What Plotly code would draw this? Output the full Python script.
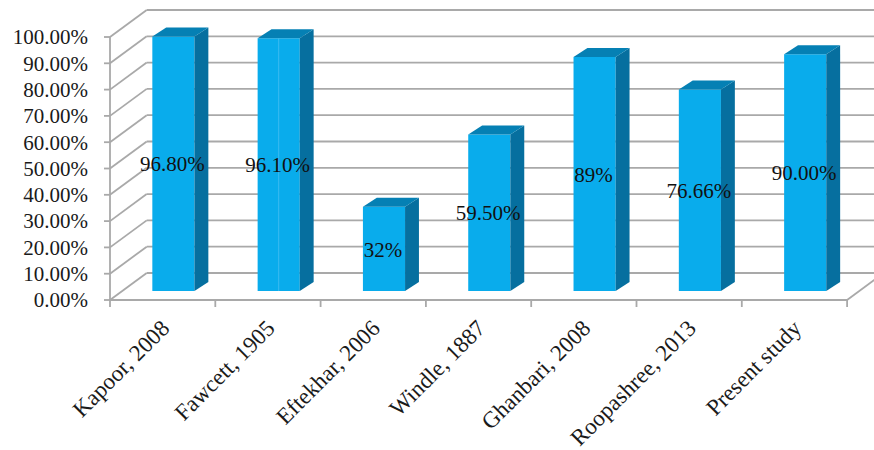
import plotly.graph_objects as go

# Study data
categories = ["Kapoor, 2008", "Fawcett, 1905", "Eftekhar, 2006", "Windle, 1887",
              "Ghanbari, 2008", "Roopashree, 2013", "Present study"]
values = [96.8, 96.1, 32, 59.5, 89, 76.66, 90]
value_labels = ["96.80%", "96.10%", "32%", "59.50%", "89%", "76.66%", "90.00%"]
y_ticks = [0, 10, 20, 30, 40, 50, 60, 70, 80, 90, 100]
y_tick_labels = [f"{v:.2f}%" for v in y_ticks]

# Oblique projection used for the box: depth offsets in axis units
WALL_DX, WALL_DY = 0.3485, 10.27
BAR_LEFT, BAR_W = 0.402, 0.40
FRONT_DY = 3.42
BAR_DX, BAR_DY = 0.132, 3.42

GRID = "#a9a9a9"
FRONT, SIDE, TOP = "#09acec", "#066f9f", "#0580b4"
FONT = "Liberation Serif"
n = len(categories)
PX_X, PX_Y = 105.3, 2.63


def line(x0, y0, x1, y1, color=GRID, width=1.8):
    return dict(type="line", xref="x", yref="y", x0=x0, y0=y0, x1=x1, y1=y1,
                layer="below", line=dict(color=color, width=width))


shapes = []
for v in y_ticks:
    shapes.append(line(0, v, WALL_DX, v + WALL_DY))
    shapes.append(line(WALL_DX, v + WALL_DY, n + 1, v + WALL_DY))
    shapes.append(line(-6 / PX_X, v, 0, v))
shapes.append(line(0, 0, 0, 100))
shapes.append(line(0, 0, n, 0))
shapes.append(line(n, 0, n + WALL_DX, WALL_DY))
for i in range(n + 1):
    shapes.append(line(i, 0, i, -7 / PX_Y))

fig = go.Figure()

# Front faces
lefts = [i + BAR_LEFT for i in range(n)]
fig.add_bar(x=[l + BAR_W / 2 for l in lefts], y=values, base=FRONT_DY, width=BAR_W,
            marker=dict(color=FRONT, line=dict(width=0)), showlegend=False)

# Side and top faces
for l, v in zip(lefts, values):
    r = l + BAR_W
    t = FRONT_DY + v
    fig.add_scatter(x=[r, r + BAR_DX, r + BAR_DX, r, r],
                    y=[FRONT_DY, FRONT_DY + BAR_DY, t + BAR_DY, t, FRONT_DY],
                    mode="lines", fill="toself", fillcolor=SIDE, line=dict(width=0),
                    showlegend=False)
    fig.add_scatter(x=[l, r, r + BAR_DX, l + BAR_DX, l],
                    y=[t, t, t + BAR_DY, t + BAR_DY, t],
                    mode="lines", fill="toself", fillcolor=TOP, line=dict(width=0),
                    showlegend=False)

# Pale seam down the middle of the second column
seam_x = lefts[1] + BAR_W / 2
fig.add_scatter(x=[seam_x, seam_x], y=[FRONT_DY, FRONT_DY + values[1]], mode="lines",
                line=dict(color="#3cbcf0", width=1), showlegend=False)

# Value labels centred on each column's front face
fig.add_scatter(x=[l + BAR_W / 2 - 0.01 for l in lefts],
                y=[FRONT_DY + v / 2 - 0.9 for v in values],
                mode="text", text=value_labels, textposition="middle center",
                textfont=dict(family=FONT, size=21, color="#111111"),
                showlegend=False, cliponaxis=False)

fig.update_layout(
    width=874, height=450, margin=dict(l=104, r=0, t=0, b=141, autoexpand=False),
    paper_bgcolor="white", plot_bgcolor="white", shapes=shapes, showlegend=False,
    xaxis=dict(range=[-6 / PX_X, 764 / PX_X], showgrid=False, zeroline=False, showline=False,
               tickmode="array", tickvals=[i + 0.5 for i in range(n)], ticktext=categories,
               tickangle=-45, ticks="", automargin=False,
               tickfont=dict(family=FONT, size=23, color="#1a1a1a")),
    yaxis=dict(range=[-9 / PX_Y, 300 / PX_Y], showgrid=False, zeroline=False, showline=False,
               tickmode="array", tickvals=y_ticks, ticktext=y_tick_labels, ticks="",
               ticklabelstandoff=15, automargin=False,
               tickfont=dict(family=FONT, size=21, color="#1a1a1a")),
)

fig.write_html("out.html")
